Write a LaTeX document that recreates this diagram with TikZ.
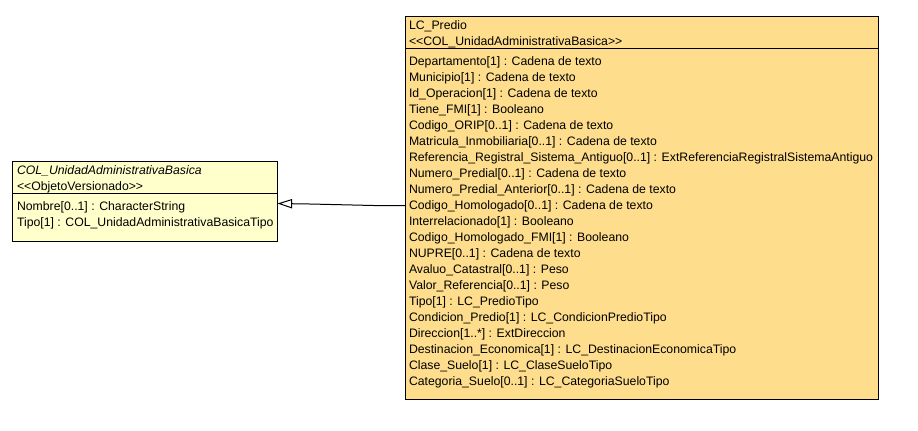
\documentclass[tikz,border=0pt]{standalone}
\usepackage{fontspec}
\setmainfont{Liberation Sans}
\usetikzlibrary{arrows.meta}
\definecolor{predioFill}{RGB}{254,221,141}
\definecolor{colFill}{RGB}{255,255,204}
\begin{document}
\begin{tikzpicture}[x=0.75pt,y=-0.75pt,
  umlbox/.style={draw=black, line width=0.75pt, anchor=north west, inner sep=0pt, outer sep=0pt},
  umltext/.style={anchor=base west, inner sep=0pt, outer sep=0pt, font=\fontsize{9.2}{11}\selectfont},
  divider/.style={draw=black, line width=0.75pt},
  genline/.style={draw=black, line width=0.75pt},
  genarrow/.style={-{Triangle[open,length=11pt,width=7pt,line width=0.75pt]}}
]
\useasboundingbox (0,0) rectangle (918,430);
\fill[white] (0,0) rectangle (918,430);
% LC_Predio class
\node[umlbox, fill=predioFill, minimum width=354.75pt, minimum height=287.25pt] (predio) at (405,16) {};
\draw[divider] (predio.west |- 0,48) -- (predio.east |- 0,48);
\node[umltext] (pname) at (409,29.5) {LC\_Predio};
\node[umltext] (pster) at (409,45.5) {<{}<COL\_UnidadAdministrativaBasica>{}>};
\foreach \t [count=\i] in {
  Departamento[1] : Cadena de texto,
  Municipio[1] : Cadena de texto,
  Id\_Operacion[1] : Cadena de texto,
  Tiene\_FMI[1] : Booleano,
  Codigo\_ORIP[0..1] : Cadena de texto,
  Matricula\_Inmobiliaria[0..1] : Cadena de texto,
  Referencia\_Registral\_Sistema\_Antiguo[0..1] : ExtReferenciaRegistralSistemaAntiguo,
  Numero\_Predial[0..1] : Cadena de texto,
  Numero\_Predial\_Anterior[0..1] : Cadena de texto,
  Codigo\_Homologado[0..1] : Cadena de texto,
  Interrelacionado[1] : Booleano,
  Codigo\_Homologado\_FMI[1] : Booleano,
  NUPRE[0..1] : Cadena de texto,
  Avaluo\_Catastral[0..1] : Peso,
  Valor\_Referencia[0..1] : Peso,
  Tipo[1] : LC\_PredioTipo,
  Condicion\_Predio[1] : LC\_CondicionPredioTipo,
  Direccion[1..*] : ExtDireccion,
  Destinacion\_Economica[1] : LC\_DestinacionEconomicaTipo,
  Clase\_Suelo[1] : LC\_ClaseSueloTipo,
  Categoria\_Suelo[0..1] : LC\_CategoriaSueloTipo}
  {\node[umltext] (pa\i) at (409,{65.5+16*(\i-1)}) {\t};}
% COL_UnidadAdministrativaBasica class
\node[umlbox, fill=colFill, minimum width=198.75pt, minimum height=60pt] (col) at (12.5,161) {};
\draw[divider] (col.west |- 0,193) -- (col.east |- 0,193);
\node[umltext, font=\fontsize{9.2}{11}\selectfont\itshape] (cname) at (17,174.5) {COL\_UnidadAdministrativaBasica};
\node[umltext] (cster) at (17,190) {<{}<ObjetoVersionado>{}>};
\node[umltext] (ca1) at (17,210.5) {Nombre[0..1] : CharacterString};
\node[umltext] (ca2) at (17,226.5) {Tipo[1] : COL\_UnidadAdministrativaBasicaTipo};
% generalization
\coordinate (k1) at (374,205.5);
\coordinate (k2) at (310,204);
\draw[genline, genarrow] (predio.west |- k1) -- (k1) -- (k2) -- (col.east |- 0,203.5);
\end{tikzpicture}
\end{document}
